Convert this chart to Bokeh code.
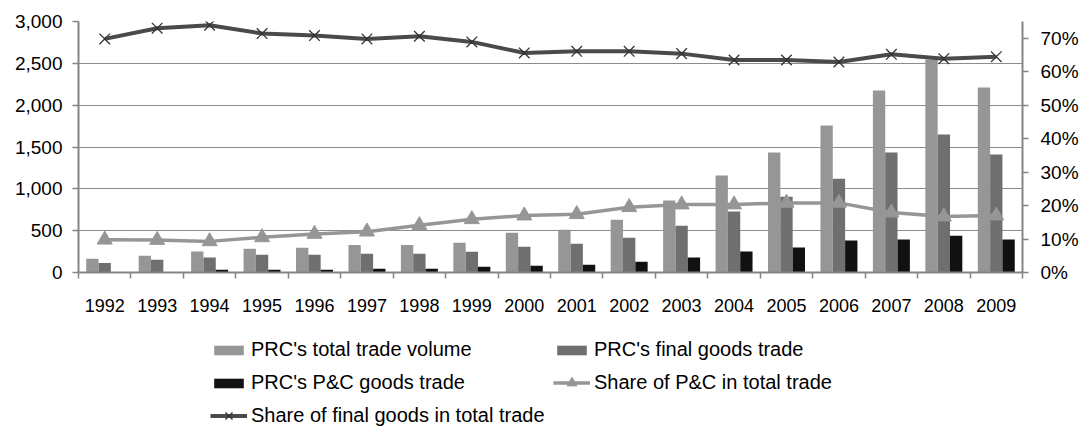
import numpy as np
from bokeh.plotting import figure
from bokeh.layouts import column
from bokeh.models import (Range1d, LinearAxis, FixedTicker, NumeralTickFormatter,
                          PrintfTickFormatter, Legend, LegendItem, ColumnDataSource)
from bokeh.transform import dodge
from bokeh.embed import file_html
from bokeh.resources import INLINE

years = [1992, 1993, 1994, 1995, 1996, 1997, 1998, 1999, 2000,
         2001, 2002, 2003, 2004, 2005, 2006, 2007, 2008, 2009]
total_trade = [165, 200, 250, 285, 295, 330, 330, 355, 475,
               510, 630, 860, 1160, 1435, 1757, 2175, 2545, 2210]
final_trade = [115, 152, 178, 212, 212, 225, 223, 248, 308,
               344, 415, 560, 730, 905, 1120, 1434, 1649, 1410]
pc_trade = [2, 2, 32, 32, 32, 45, 44, 68, 80,
            92, 128, 178, 250, 298, 381, 393, 440, 393]
share_pc = [9.8, 9.7, 9.3, 10.5, 11.5, 12.2, 14.1, 15.9, 17.0,
            17.4, 19.5, 20.3, 20.3, 20.8, 20.8, 17.9, 16.7, 17.0]
share_final = [69.8, 73.0, 73.9, 71.4, 70.8, 69.8, 70.6, 68.9, 65.6,
               66.1, 66.1, 65.4, 63.5, 63.5, 62.9, 65.2, 63.9, 64.5]
left_ticks = [0, 500, 1000, 1500, 2000, 2500, 3000]
right_ticks = [0, 10, 20, 30, 40, 50, 60, 70]
series_labels = ["PRC's total trade volume", "PRC's final goods trade",
                 "PRC's P&C goods trade", "Share of P&C in total trade",
                 "Share of final goods in total trade"]

FONT = "Liberation Sans"
C_TOTAL = "#969696"
C_FINAL = "#6f6f6f"
C_PC = "#111111"
C_LINE_FINAL = "#4a4a4a"
C_LINE_PC = "#969696"
AX = "#858585"
W = 1081

n = len(years)
xc = np.arange(n) + 0.5
bw = 0.235

src = ColumnDataSource(dict(x=xc, total=total_trade, final=final_trade, pc=pc_trade,
                            spc=share_pc, sfin=share_final))

p = figure(width=W, height=316, output_backend="svg", toolbar_location=None,
           x_range=Range1d(0, n), y_range=Range1d(0, 3000),
           min_border_left=78, min_border_right=58, min_border_top=21, min_border_bottom=44)
p.extra_y_ranges = {"pct": Range1d(0, 75)}
p.outline_line_color = None
p.background_fill_color = "white"
p.border_fill_color = "white"

p.xgrid.visible = False
p.ygrid.ticker = FixedTicker(ticks=left_ticks)
p.ygrid.grid_line_color = "#8c8c8c"
p.ygrid.grid_line_width = 1.2


def bar_glyphs(fig, source, xt, xf, xp):
    rt = fig.vbar(x=xt, top="total", width=bw, source=source,
                  fill_color=C_TOTAL, line_color=None)
    rf = fig.vbar(x=xf, top="final", width=bw, source=source,
                  fill_color=C_FINAL, line_color=None)
    rp = fig.vbar(x=xp, top="pc", width=bw, source=source,
                  fill_color=C_PC, line_color=None)
    return rt, rf, rp


def line_glyphs(fig, source, **kw):
    lp = fig.line("x", "spc", source=source, line_color=C_LINE_PC, line_width=3.5, **kw)
    mp = fig.scatter("x", "spc", source=source, marker="triangle", size=15,
                     fill_color=C_LINE_PC, line_color=C_LINE_PC, **kw)
    lf = fig.line("x", "sfin", source=source, line_color=C_LINE_FINAL, line_width=4, **kw)
    mf = fig.scatter("x", "sfin", source=source, marker="x", size=15,
                     line_color="#333333", line_width=1.3, **kw)
    return lp, mp, lf, mf


bar_glyphs(p, src, dodge("x", -bw, range=p.x_range), "x", dodge("x", bw, range=p.x_range))
line_glyphs(p, src, y_range_name="pct")

# axes
xa = p.xaxis[0]
xa.ticker = FixedTicker(ticks=list(xc), minor_ticks=list(range(0, n + 1)))
xa.major_label_overrides = {float(v): str(y) for v, y in zip(xc, years)}
xa.major_tick_out = 0
xa.major_tick_in = 0
xa.minor_tick_out = 6
xa.minor_tick_in = 0
xa.minor_tick_line_color = AX
xa.minor_tick_line_width = 1.5
xa.axis_line_color = AX
xa.axis_line_width = 2
xa.major_label_standoff = 20
xa.major_label_text_font = FONT
xa.major_label_text_font_size = "18px"
xa.major_label_text_color = "#000000"

ya = p.yaxis[0]
ya.ticker = FixedTicker(ticks=left_ticks)
ya.formatter = NumeralTickFormatter(format="0,0")
ya.major_tick_out = 6
ya.major_tick_in = 0
ya.minor_tick_line_color = None
ya.major_tick_line_color = AX
ya.major_tick_line_width = 1.5
ya.axis_line_color = AX
ya.axis_line_width = 2
ya.major_label_standoff = 10
ya.major_label_text_font = FONT
ya.major_label_text_font_size = "19px"
ya.major_label_text_color = "#000000"

ra = LinearAxis(y_range_name="pct", ticker=FixedTicker(ticks=right_ticks),
                formatter=PrintfTickFormatter(format="%d%%"))
ra.major_tick_out = 6
ra.major_tick_in = 0
ra.minor_tick_line_color = None
ra.major_tick_line_color = AX
ra.major_tick_line_width = 1.5
ra.axis_line_color = AX
ra.axis_line_width = 2
ra.major_label_standoff = 12
ra.major_label_text_font = FONT
ra.major_label_text_font_size = "19px"
ra.major_label_text_color = "#000000"
p.add_layout(ra, "right")

# legend panel: a separate figure below; its renderers are hidden and only feed the legends
LH = 112
lg = figure(width=W, height=LH, output_backend="svg", toolbar_location=None,
            x_range=Range1d(0, 1), y_range=Range1d(0, 1),
            x_axis_type=None, y_axis_type=None,
            min_border=0, min_border_left=78, min_border_right=58,
            min_border_top=0, min_border_bottom=0)
lg.outline_line_color = None
lg.grid.visible = False
lt, lf_, lp_ = bar_glyphs(lg, src, "x", "x", "x")
llp, lmp, llf, lmf = line_glyphs(lg, src)
for r in (lt, lf_, lp_, llp, lmp, llf, lmf):
    r.visible = False

COL1, COL2 = 132, 475
ROW_H, GAP = 25, 8


def make_legend(items, loc, glyph_h, **kw):
    lgd = Legend(items=items, location=loc, **kw)
    lgd.border_line_color = None
    lgd.background_fill_alpha = 0
    lgd.inactive_fill_alpha = 0
    lgd.glyph_width = 37
    lgd.glyph_height = glyph_h
    lgd.label_height = ROW_H
    lgd.label_width = 294
    lgd.label_standoff = 4
    lgd.spacing = GAP
    lgd.padding = 0
    lgd.margin = 0
    lgd.label_text_font = FONT
    lgd.label_text_font_size = "20px"
    lgd.label_text_color = "#000000"
    lg.add_layout(lgd, "center")
    return lgd


# bars: column 1 rows 1-2, column 2 row 1
make_legend([
    LegendItem(label=series_labels[0], renderers=[lt]),
    LegendItem(label=series_labels[2], renderers=[lp_]),
    LegendItem(label=series_labels[1], renderers=[lf_]),
], (COL1, ROW_H + GAP), 12, ncols=2)
# share of P&C: column 2 row 2
make_legend([LegendItem(label=series_labels[3], renderers=[llp, lmp])],
            (COL2, ROW_H + GAP), ROW_H)
# share of final goods: column 1 row 3
make_legend([LegendItem(label=series_labels[4], renderers=[llf, lmf])],
            (COL1, 0), ROW_H)

layout = column(p, lg, spacing=0)
open("out.html", "w").write(file_html(layout, INLINE))
